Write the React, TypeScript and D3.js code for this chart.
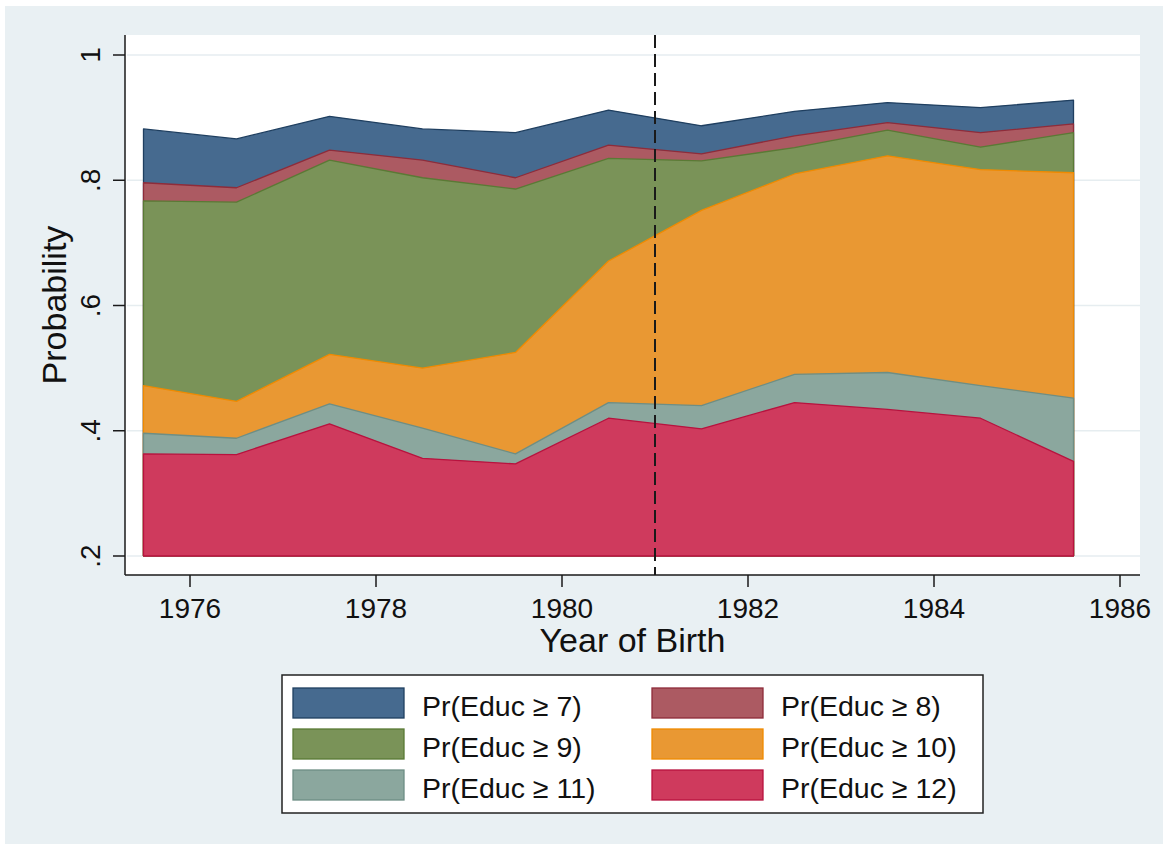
import React from "react";
import * as d3 from "d3";

const years = [1975.5, 1976.5, 1977.5, 1978.5, 1979.5, 1980.5, 1981.5, 1982.5, 1983.5, 1984.5, 1985.5];
const pr7 = [0.882, 0.866, 0.902, 0.882, 0.876, 0.912, 0.887, 0.910, 0.924, 0.916, 0.928];
const pr8 = [0.796, 0.788, 0.848, 0.832, 0.804, 0.856, 0.842, 0.871, 0.892, 0.876, 0.890];
const pr9 = [0.767, 0.765, 0.832, 0.804, 0.786, 0.835, 0.831, 0.852, 0.880, 0.853, 0.876];
const pr10 = [0.472, 0.447, 0.522, 0.500, 0.525, 0.671, 0.752, 0.810, 0.839, 0.817, 0.812];
const pr11 = [0.396, 0.388, 0.443, 0.404, 0.363, 0.445, 0.440, 0.490, 0.493, 0.472, 0.452];
const pr12 = [0.363, 0.362, 0.411, 0.356, 0.347, 0.420, 0.403, 0.445, 0.434, 0.420, 0.351];

const seriesLabels = [
  "Pr(Educ \u2265 7)",
  "Pr(Educ \u2265 8)",
  "Pr(Educ \u2265 9)",
  "Pr(Educ \u2265 10)",
  "Pr(Educ \u2265 11)",
  "Pr(Educ \u2265 12)",
];
const seriesValues = [pr7, pr8, pr9, pr10, pr11, pr12];
const fills = ["#466a8f", "#ac5a62", "#7a9358", "#e99833", "#8ba79e", "#cf3a5d"];
const strokes = ["#1f3f60", "#8e2c3a", "#5a7a35", "#f08a00", "#6e8e84", "#b8123e"];

const xTicks = [1976, 1978, 1980, 1982, 1984, 1986];
const yTicks = [0.2, 0.4, 0.6, 0.8, 1];
const yTickLabels = [".2", ".4", ".6", ".8", "1"];
const cutoffYear = 1981;

const FONT = "'Liberation Sans', Arial, Helvetica, sans-serif";

export default function App() {
  const W = 1163;
  const H = 848;
  const plotLeft = 125;
  const plotRight = 1140;
  const plotTop = 35;
  const plotBottom = 575;

  const x = d3.scaleLinear().domain([1976, 1986]).range([190, 1120]);
  const y = d3.scaleLinear().domain([0.2, 1]).range([556, 55]);

  const area = d3
    .area<number>()
    .x((_, i) => x(years[i]))
    .y0(() => y(0.2))
    .y1((d) => y(d));

  const legendRows = [
    [0, 1],
    [2, 3],
    [4, 5],
  ];
  const colSwatchX = [293, 652];
  const colTextX = [422, 781];
  const rowY = [688, 729, 770];

  return (
    <svg
      width={W}
      height={H}
      style={{ position: "absolute", left: 0, top: 0, display: "block" }}
      fontFamily={FONT}
    >
      <rect x={0} y={0} width={W} height={H} fill="#ffffff" />
      <rect x={5} y={6} width={W - 5} height={H - 10} fill="#e9f0f3" />
      {/* plot region */}
      <rect x={plotLeft} y={plotTop} width={plotRight - plotLeft} height={plotBottom - plotTop} fill="#ffffff" />
      {/* gridlines */}
      {yTicks.map((t) => (
        <line
          key={"g" + t}
          x1={plotLeft + 2}
          x2={plotRight}
          y1={y(t)}
          y2={y(t)}
          stroke="#e6edf0"
          strokeWidth={1.5}
        />
      ))}
      {/* areas */}
      {seriesValues.map((vals, i) => (
        <path
          key={"a" + i}
          d={area(vals) || ""}
          fill={fills[i]}
          stroke={strokes[i]}
          strokeWidth={1.3}
          strokeLinejoin="round"
        />
      ))}
      {/* cutoff line */}
      <line
        x1={x(cutoffYear)}
        x2={x(cutoffYear)}
        y1={plotTop}
        y2={plotBottom}
        stroke="#1a1a1a"
        strokeWidth={2}
        strokeDasharray="13,6"
      />
      {/* axes */}
      <line x1={plotLeft} x2={plotLeft} y1={plotTop} y2={plotBottom} stroke="#1a1a1a" strokeWidth={1.5} />
      <line x1={plotLeft} x2={plotRight} y1={plotBottom} y2={plotBottom} stroke="#1a1a1a" strokeWidth={1.5} />
      {yTicks.map((t, i) => (
        <g key={"yt" + t}>
          <line x1={plotLeft - 12} x2={plotLeft} y1={y(t)} y2={y(t)} stroke="#1a1a1a" strokeWidth={1.5} />
          <text
            x={100}
            y={y(t)}
            transform={`rotate(-90, 100, ${y(t)})`}
            textAnchor="middle"
            fontSize={28}
            fill="#111"
          >
            {yTickLabels[i]}
          </text>
        </g>
      ))}
      {xTicks.map((t) => (
        <g key={"xt" + t}>
          <line x1={x(t)} x2={x(t)} y1={plotBottom} y2={plotBottom + 12} stroke="#1a1a1a" strokeWidth={1.5} />
          <text x={x(t)} y={618} textAnchor="middle" fontSize={28} fill="#111">
            {t}
          </text>
        </g>
      ))}
      <text
        x={66}
        y={(plotTop + plotBottom) / 2}
        transform={`rotate(-90, 66, ${(plotTop + plotBottom) / 2})`}
        textAnchor="middle"
        fontSize={34}
        fill="#111"
      >
        Probability
      </text>
      <text x={(plotLeft + plotRight) / 2} y={652} textAnchor="middle" fontSize={34} fill="#111">
        Year of Birth
      </text>
      {/* legend */}
      <rect x={282} y={675} width={701} height={138} fill="#ffffff" stroke="#222" strokeWidth={1.5} />
      {legendRows.map((row, r) =>
        row.map((si, c) => (
          <g key={"l" + si}>
            <rect
              x={colSwatchX[c]}
              y={rowY[r]}
              width={111}
              height={30}
              fill={fills[si]}
              stroke={strokes[si]}
              strokeWidth={1.3}
            />
            <text x={colTextX[c]} y={rowY[r] + 28} fontSize={28.5} fill="#111">
              {seriesLabels[si]}
            </text>
          </g>
        ))
      )}
    </svg>
  );
}
